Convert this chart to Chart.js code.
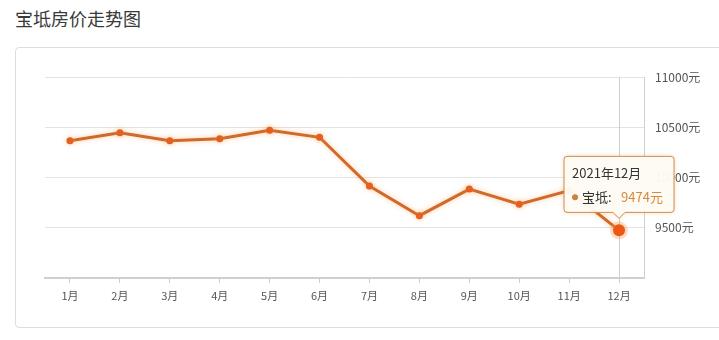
<!DOCTYPE html>
<html><head><meta charset="utf-8">
<script src="https://cdn.jsdelivr.net/npm/chart.js@4"></script>
<style>
html,body{margin:0;padding:0;background:#fff;width:719px;height:340px;overflow:hidden;}
#title{position:absolute;left:15px;top:5px;font:18px "Noto Sans CJK SC",sans-serif;color:#3a3a3a;}
#card{position:absolute;left:15px;top:47px;width:720px;height:281px;border:1px solid #ddd;border-radius:4px;box-sizing:border-box;}
#wrap{position:absolute;left:0;top:0;width:719px;height:340px;}
</style></head>
<body>
<div id="title">宝坻房价走势图</div>
<div id="card"></div>
<div id="wrap"><canvas id="c" width="719" height="340"></canvas></div>
<script>
const categories = ['1月','2月','3月','4月','5月','6月','7月','8月','9月','10月','11月','12月'];
const prices = [10365, 10445, 10365, 10385, 10470, 10400, 9915, 9620, 9885, 9735, 9870, 9474];
const yTickValues = [9000, 9500, 10000, 10500, 11000];
const yTickLabels = ['', '9500元', '10000元', '10500元', '11000元'];
const seriesName = '宝坻';
const tooltipTitle = '2021年12月';
const activeIndex = 11;
const unit = '元';

const FONT = '"Noto Sans CJK SC", sans-serif';

const glowPlugin = {
  id: 'glow',
  beforeDatasetDraw(chart) {
    const ctx = chart.ctx;
    ctx.save();
    ctx.shadowColor = 'rgba(245,160,80,0.55)';
    ctx.shadowBlur = 5;
  },
  afterDatasetDraw(chart) { chart.ctx.restore(); }
};

const overlayPlugin = {
  id: 'overlay',
  beforeDatasetsDraw(chart) {
    const ctx = chart.ctx, a = chart.chartArea;
    const pt = chart.getDatasetMeta(0).data[activeIndex];
    ctx.save();
    ctx.strokeStyle = '#cfcfcf';
    ctx.lineWidth = 1;
    ctx.beginPath();
    ctx.moveTo(Math.round(pt.x) + 0.5, a.top);
    ctx.lineTo(Math.round(pt.x) + 0.5, a.bottom);
    ctx.stroke();
    ctx.restore();
  },
  afterDatasetsDraw(chart) {
    const ctx = chart.ctx;
    const pt = chart.getDatasetMeta(0).data[activeIndex];
    ctx.save();
    ctx.fillStyle = 'rgba(250,160,90,0.35)';
    ctx.beginPath(); ctx.arc(pt.x, pt.y, 9, 0, Math.PI * 2); ctx.fill();
    ctx.fillStyle = '#ee5816';
    ctx.beginPath(); ctx.arc(pt.x, pt.y, 6, 0, Math.PI * 2); ctx.fill();
    ctx.restore();
    const w = 110, h = 56, caret = 6;
    const bx = pt.x - w / 2, by = pt.y - 18 - h;
    ctx.save();
    ctx.shadowColor = 'rgba(220,140,70,0.35)';
    ctx.shadowBlur = 5;
    ctx.fillStyle = 'rgba(255,253,248,0.95)';
    ctx.strokeStyle = '#d38a48';
    ctx.lineWidth = 1;
    const r = 3;
    ctx.beginPath();
    ctx.moveTo(bx + r, by);
    ctx.lineTo(bx + w - r, by);
    ctx.quadraticCurveTo(bx + w, by, bx + w, by + r);
    ctx.lineTo(bx + w, by + h - r);
    ctx.quadraticCurveTo(bx + w, by + h, bx + w - r, by + h);
    ctx.lineTo(pt.x + caret, by + h);
    ctx.lineTo(pt.x, by + h + caret);
    ctx.lineTo(pt.x - caret, by + h);
    ctx.lineTo(bx + r, by + h);
    ctx.quadraticCurveTo(bx, by + h, bx, by + h - r);
    ctx.lineTo(bx, by + r);
    ctx.quadraticCurveTo(bx, by, bx + r, by);
    ctx.closePath();
    ctx.fill();
    ctx.shadowColor = 'transparent';
    ctx.stroke();
    ctx.textBaseline = 'middle';
    ctx.font = '13px ' + FONT;
    ctx.fillStyle = '#333';
    ctx.fillText(tooltipTitle, bx + 8, by + 17);
    ctx.fillStyle = '#c9843e';
    ctx.beginPath(); ctx.arc(bx + 11, by + 41, 3, 0, Math.PI * 2); ctx.fill();
    ctx.fillStyle = '#333';
    ctx.fillText(seriesName + ':', bx + 18, by + 41);
    ctx.fillStyle = '#d8883a';
    ctx.fillText(prices[activeIndex] + unit, bx + 57, by + 41);
    ctx.restore();
  }
};

new Chart(document.getElementById('c'), {
  type: 'line',
  data: {
    labels: categories,
    datasets: [{
      label: seriesName,
      data: prices,
      borderColor: '#d0692a',
      borderWidth: 3,
      pointRadius: 3.5,
      pointBackgroundColor: '#e35f22',
      pointBorderColor: '#e35f22',
      pointBorderWidth: 0,
      tension: 0,
      fill: false
    }]
  },
  options: {
    responsive: false,
    animation: false,
    events: [],
    layout: { padding: { left: 45, top: 77, right: 0, bottom: 0 } },
    plugins: { legend: { display: false }, tooltip: { enabled: false } },
    scales: {
      x: {
        offset: true,
        afterFit(s) { s.height = 62; },
        border: { display: true, color: '#cfcfcf', width: 2 },
        grid: { display: true, drawOnChartArea: false, drawTicks: true, tickLength: 5, color: '#cfcfcf', offset: false },
        ticks: { color: '#555', font: { family: FONT, size: 11 }, padding: 6, maxRotation: 0 }
      },
      y: {
        position: 'right',
        min: 9000, max: 11000,
        afterFit(s) { s.width = 75; },
        afterBuildTicks(s) { s.ticks = yTickValues.map(v => ({ value: v })); },
        border: { display: true, color: '#d0d0d0', width: 1 },
        grid: { color: '#e3e3e3', drawTicks: false },
        ticks: {
          color: '#555', font: { family: FONT, size: 12 }, padding: 11,
          callback(v) { const i = yTickValues.indexOf(v); return i >= 0 ? yTickLabels[i] : ''; }
        }
      }
    }
  },
  plugins: [glowPlugin, overlayPlugin]
});
</script>
</body></html>
